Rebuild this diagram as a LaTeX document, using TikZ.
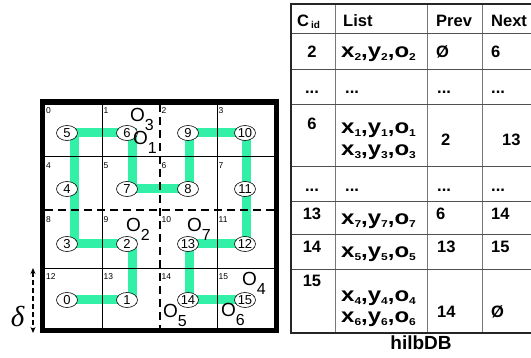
\documentclass[tikz,border=0pt]{standalone}
\usepackage{fontspec}
\setmainfont{Liberation Sans}
\newfontfamily\serifgreek{Liberation Serif}
\usepackage{graphicx}
\usetikzlibrary{arrows.meta,shapes.geometric}
\definecolor{mint}{RGB}{50,240,165}
\definecolor{tvline}{RGB}{120,120,120}
\definecolor{thline}{RGB}{80,80,80}
\newcommand\fs[1]{\fontsize{#1}{#1}\selectfont}
\newcommand\obj[1]{\fs{19}O\raisebox{-8.5pt}{\fs{16}#1}}
\newcommand\subn[1]{\raisebox{-3pt}{\fs{10}#1}}
\newcommand\xyo[1]{\scalebox{1.2}[1]{\fs{20}\bfseries x\subn{#1},y\subn{#1},o\subn{#1}}}
\tikzset{
  cellnum/.style={font=\fs{8.5}, inner sep=0, anchor=north west},
  circ/.style={ellipse, draw, line width=0.6pt, fill=white, minimum width=21pt, minimum height=15pt, inner sep=0, font=\fs{13}},
  objl/.style={anchor=base west, inner sep=0},
  tcell/.style={anchor=base west, inner sep=0, font=\fs{16.5}\bfseries},
  tcen/.style={anchor=base, inner sep=0, font=\fs{16.5}\bfseries},
  lst/.style={anchor=base west, inner sep=0},
  hilbert/.style={line width=9pt, mint, line join=miter},
  gridln/.style={line width=0.8pt},
  splitln/.style={line width=2pt, dash pattern=on 8pt off 5pt},
  deltaarrow/.style={line width=1.5pt, dash pattern=on 5pt off 3pt, {Stealth[length=6pt,width=5pt]}-{Stealth[length=6pt,width=5pt]}}
}
\begin{document}
\begin{tikzpicture}[x=1pt,y=-1pt]
\useasboundingbox (0,0) rectangle (531,358);
\clip (0,0) rectangle (531,358);
% Hilbert path coordinates
\foreach \n/\px/\cy in {0/74/300, 1/132/300, 2/132/244, 3/74/244, 4/74/189, 5/74/133, 6/132/133, 7/132/189, 8/189/189, 9/189/133, 10/246.5/133, 11/246.5/189, 12/246.5/244, 13/189/244, 14/189/300, 15/246.5/300}
  {\coordinate (p\n) at (\px,\cy);}
\draw[hilbert] (p0) -- (p1) -- (p2) -- (p3) -- (p4) -- (p5) -- (p6) -- (p7) -- (p8) -- (p9) -- (p10) -- (p11) -- (p12) -- (p13) -- (p14) -- (p15);
% grid
\draw[gridln] (102,102) -- (102,331) (217,102) -- (217,331) (42,156) -- (277,156) (42,268) -- (277,268);
\draw[splitln] (160,104) -- (160,329);
\draw[splitln] (45,210) -- (278,210);
% border
\draw[line width=5.5pt] (42.5,102) rectangle (276.5,330.5);
% cell numbers
\foreach \r/\ty in {0/107,1/162,2/216,3/273}
  \foreach \c/\lx in {0/46,1/103.5,2/161.5,3/218.5}
  {\pgfmathtruncatemacro\k{4*\r+\c}
   \node[cellnum] (k\k) at (\lx,\ty) {\k};}
% circles
\foreach \n/\cx/\cy in {0/67/300, 1/127/300, 2/127/244, 3/67/244, 4/67/189, 5/67/133, 6/127/133, 7/127/189, 8/188/189, 9/188/133, 10/245/133, 11/245/189, 12/245/244, 13/188/244, 14/188/300, 15/245/300}
  {\node[circ] (c\n) at (\cx,\cy) {\n};}
% objects
\node[objl] (o3) at (130,122) {\obj{3}};
\node[objl] (o1) at (133,145) {\obj{1}};
\node[objl] (o2) at (126,232) {\obj{2}};
\node[objl] (o7) at (187,232) {\obj{7}};
\node[objl] (o4) at (242,286) {\obj{4}};
\node[objl] (o5) at (163,318) {\obj{5}};
\node[objl] (o6) at (221,317) {\obj{6}};
% delta
\node[inner sep=0] (delta) at (17.5,317) {\serifgreek\itshape\fs{29}δ};
\coordinate (dtop) at (33,268);
\coordinate (dbot) at (33,333);
\draw[deltaarrow] (dtop) -- (dbot);
% table lines
\draw[tvline, line width=1pt] (335,4) -- (335,333) (427,4) -- (427,333) (482,4) -- (482,333);
\foreach \yy in {34,70,105,167,202,235,270}
  {\draw[thline, line width=1pt] (291,\yy) -- (531,\yy);}
\draw[black!85, line width=2.5pt] (531,4) -- (291,4) -- (291,333) -- (531,333);
% header
\node[tcell] (hc) at (297,27) {C\hspace{2pt}\raisebox{-2pt}{\fs{10}\bfseries id}};
\node[tcell] (hl) at (343,27) {List};
\node[tcell] (hp) at (436,27) {Prev};
\node[tcell] (hn) at (491,27) {Next};
% row 2
\node[tcen] (a1) at (312,58) {2};
\node[lst] (a2) at (341,58) {\xyo{2}};
\node[tcell] (a3) at (436,58) {Ø};
\node[tcell] (a4) at (491,58) {6};
% row dots
\node[tcen] (b1) at (312,94) {...};
\node[tcell] (b2) at (345,94) {...};
\node[tcell] (b3) at (437,94) {...};
\node[tcell] (b4) at (491,94) {...};
% row 6
\node[tcen] (d1) at (312,130) {6};
\node[lst] (d2) at (341,134) {\xyo{1}};
\node[lst] (d2b) at (341,156) {\xyo{3}};
\node[tcell] (d3) at (441,146) {2};
\node[tcell] (d4) at (502,146) {13};
% row dots
\node[tcen] (e1) at (312,192) {...};
\node[tcell] (e2) at (345,192) {...};
\node[tcell] (e3) at (437,192) {...};
\node[tcell] (e4) at (491,192) {...};
% row 13
\node[tcen] (f1) at (312,220) {13};
\node[lst] (f2) at (341,225) {\xyo{7}};
\node[tcell] (f3) at (436,220) {6};
\node[tcell] (f4) at (491,220) {14};
% row 14
\node[tcen] (g1) at (312,253) {14};
\node[lst] (g2) at (341,258) {\xyo{5}};
\node[tcell] (g3) at (437,253) {13};
\node[tcell] (g4) at (491,253) {15};
% row 15
\node[tcen] (i1) at (312,287) {15};
\node[lst] (i2) at (341,302) {\xyo{4}};
\node[lst] (i2b) at (341,323) {\xyo{6}};
\node[tcell] (i3) at (437,318) {14};
\node[tcell] (i4) at (491,318) {Ø};
% caption
\node[anchor=base, inner sep=0, font=\fs{19}\bfseries] (cap) at (421,350) {hilbDB};
\end{tikzpicture}
\end{document}
